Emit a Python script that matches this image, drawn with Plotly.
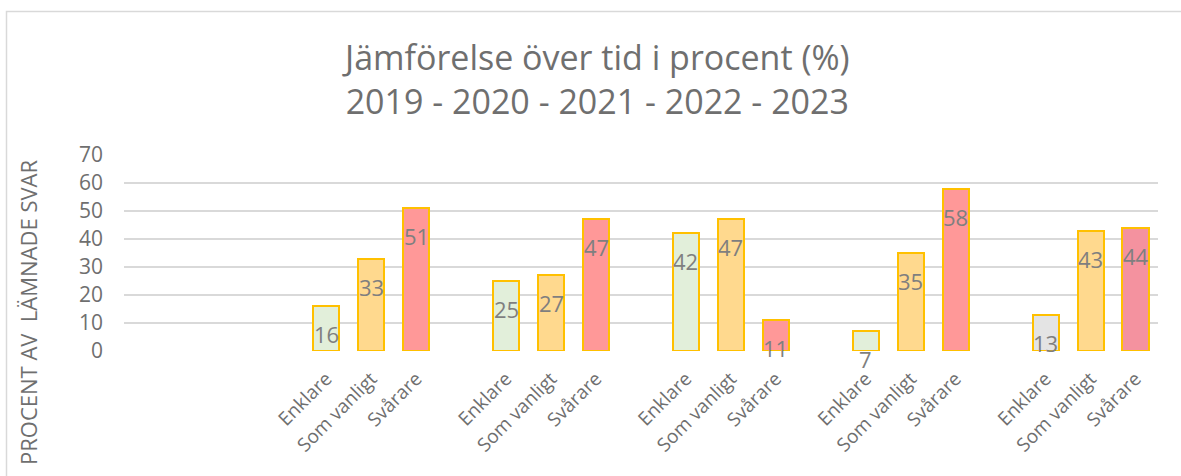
import plotly.graph_objects as go

years = ["2019", "2020", "2021", "2022", "2023"]
categories = ["Enklare", "Som vanligt", "Svårare"]
enklare = [16, 25, 42, 7, 13]
som_vanligt = [33, 27, 47, 35, 43]
svarare = [51, 47, 11, 58, 44]
y_ticks = [0, 10, 20, 30, 40, 50, 60, 70]

series = [enklare, som_vanligt, svarare]
fill_colors = [
    ["#E2EFDA", "#E2EFDA", "#E2EFDA", "#E2EFDA", "#E4E4E4"],
    ["#FFD98E"] * 5,
    ["#FF9898", "#FF9898", "#FF9898", "#FF9898", "#F4929F"],
]

W, H = 1181, 476
ml, mt = 124, 155
mr = W - 1158
mb = H - 351
pw, ph = W - ml - mr, H - mt - mb


def px_x(x):
    return (x - ml) / pw


def px_y(y):
    return (H - mb - y) / ph


fig = go.Figure()
tickvals, ticktext = [], []
for ci, cat in enumerate(categories):
    xs = [4 + 4 * g + ci for g in range(len(years))]
    fig.add_trace(go.Bar(
        x=xs, y=series[ci], width=0.58, name=cat,
        marker=dict(color=fill_colors[ci], line=dict(color="#FFC000", width=2)),
        showlegend=False, hoverinfo="y",
    ))
    for x, v in zip(xs, series[ci]):
        fig.add_annotation(x=x, y=v, text=str(v), showarrow=False, yshift=-28,
                           font=dict(size=22, color="#7F7F7F"))
        tickvals.append(x)
        ticktext.append(cat)

fig.update_layout(
    width=W, height=H, autosize=False,
    margin=dict(l=ml, r=mr, t=mt, b=mb),
    paper_bgcolor="white", plot_bgcolor="white",
    font=dict(family="Open Sans", color="#595959"),
    bargap=0,
    xaxis=dict(range=[-0.5, 22.5], tickmode="array", tickvals=tickvals, ticktext=ticktext,
               tickangle=-45, tickfont=dict(size=19, color="#6F6F6F"), ticklabelstandoff=12,
               showgrid=False, zeroline=False, showline=False, ticks=""),
    yaxis=dict(range=[0, 70], tickmode="array", tickvals=y_ticks,
               tickfont=dict(size=21, color="#6F6F6F"),
               showgrid=True, gridcolor="#D9D9D9", gridwidth=1.5,
               zeroline=False, showline=False, ticks="", ticklabelstandoff=20),
)

fig.add_annotation(xref="paper", yref="paper", x=px_x(596), y=px_y(79),
                   text="Jämförelse över tid i procent (%)<br>2019 - 2020 - 2021 - 2022 - 2023",
                   showarrow=False, font=dict(size=34, color="#6F6F6F"), align="center",
                   xanchor="center", yanchor="middle")
fig.add_annotation(xref="paper", yref="paper", x=px_x(28), y=px_y(312),
                   text="PROCENT AV  LÄMNADE SVAR", textangle=-90, showarrow=False,
                   font=dict(size=22, color="#6F6F6F"), xanchor="center", yanchor="middle")

fig.add_shape(type="rect", xref="paper", yref="paper",
              x0=px_x(6.5), x1=px_x(1200),
              y0=px_y(520), y1=px_y(11.5),
              line=dict(color="#D9D9D9", width=1.5), fillcolor="rgba(0,0,0,0)", layer="below")

fig.write_html("out.html", config={"displayModeBar": False},
               post_script="document.body.style.margin='0px';")
